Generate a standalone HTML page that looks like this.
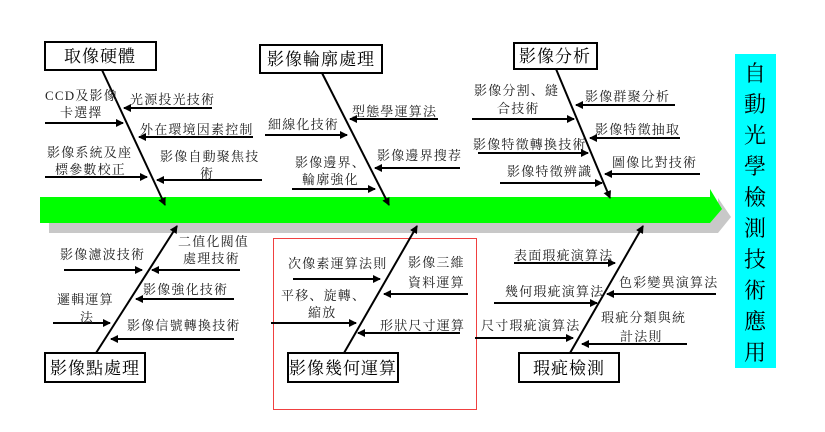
<!DOCTYPE html>
<html><head><meta charset="utf-8"><style>
body{margin:0;background:#fff;}
svg{display:block;}
text{font-family:"Liberation Serif","Noto Serif CJK SC","Noto Sans CJK TC",serif;font-size:13px;fill:#222;letter-spacing:1.2px;}
.t{font-size:17px;fill:#000;letter-spacing:1px;}
.v{font-size:22px;fill:#000;letter-spacing:0;}
</style></head><body>
<svg width="825" height="432" viewBox="0 0 825 432" xmlns="http://www.w3.org/2000/svg">
<defs>
<marker id="a" markerWidth="8" markerHeight="8" refX="7" refY="4" orient="auto" markerUnits="userSpaceOnUse"><path d="M0,0 L8,4 L0,8 z" fill="#000"/></marker>
</defs>
<polygon points="49,206 718,206 718,198 731,217 718,233 49,233" fill="#c8c8c8"/>
<polygon points="40,197 710,197 710,189 722,209 710,223 40,223" fill="#00ff00"/>
<rect x="735" y="54" width="41" height="314" fill="#00ffff"/>
<g text-anchor="middle">
<text class="v" x="755" y="81">自</text><text class="v" x="755" y="112">動</text><text class="v" x="755" y="143">光</text><text class="v" x="755" y="174">學</text><text class="v" x="755" y="205">檢</text><text class="v" x="755" y="236">測</text><text class="v" x="755" y="267">技</text><text class="v" x="755" y="298">術</text><text class="v" x="755" y="329">應</text><text class="v" x="755" y="360">用</text>
</g>
<rect x="273.5" y="238.5" width="203" height="171" fill="none" stroke="#f04040" stroke-width="1"/>
<g fill="#fff" stroke="#000" stroke-width="2">
<rect x="45" y="42" width="111" height="28"/>
<rect x="260" y="45" width="122" height="28"/>
<rect x="514" y="43" width="83" height="26"/>
<rect x="45" y="353" width="100" height="29"/>
<rect x="288" y="353" width="110" height="29"/>
<rect x="519" y="353" width="100" height="29"/>
</g>
<g text-anchor="middle">
<text class="t" x="100" y="62">取像硬體</text>
<text class="t" x="321" y="65">影像輪廓處理</text>
<text class="t" x="555" y="62">影像分析</text>
<text class="t" x="95" y="374">影像點處理</text>
<text class="t" x="343" y="374">影像幾何運算</text>
<text class="t" x="569" y="374">瑕疵檢測</text>
</g>
<g stroke="#000" stroke-width="2" marker-end="url(#a)" fill="none">
<line x1="102" y1="70" x2="165" y2="205"/>
<line x1="322" y1="73" x2="389" y2="205"/>
<line x1="556" y1="69" x2="610" y2="198"/>
<line x1="96" y1="353" x2="177" y2="226"/>
<line x1="344" y1="353" x2="417" y2="226"/>
<line x1="570" y1="353" x2="643" y2="226"/>
<line x1="212" y1="108" x2="124" y2="108"/>
<line x1="45" y1="123" x2="123" y2="123"/>
<line x1="253" y1="137" x2="139" y2="137"/>
<line x1="45" y1="177" x2="147" y2="177"/>
<line x1="262" y1="180" x2="157" y2="180"/>
<line x1="438" y1="119" x2="350" y2="119"/>
<line x1="265" y1="135" x2="347" y2="135"/>
<line x1="460" y1="168" x2="375" y2="168"/>
<line x1="292" y1="189" x2="375" y2="189"/>
<line x1="472" y1="119" x2="574" y2="119"/>
<line x1="675" y1="105" x2="576" y2="105"/>
<line x1="680" y1="138" x2="590" y2="138"/>
<line x1="478" y1="153" x2="588" y2="153"/>
<line x1="500" y1="183" x2="602" y2="183"/>
<line x1="700" y1="174" x2="605" y2="174"/>
<line x1="64" y1="270" x2="142" y2="270"/>
<line x1="240" y1="270" x2="152" y2="270"/>
<line x1="234" y1="299" x2="136" y2="299"/>
<line x1="53" y1="323" x2="110" y2="323"/>
<line x1="234" y1="339" x2="111" y2="339"/>
<line x1="293" y1="279" x2="380" y2="279"/>
<line x1="468" y1="294" x2="384" y2="294"/>
<line x1="271" y1="323" x2="356" y2="323"/>
<line x1="460" y1="333" x2="358" y2="333"/>
<line x1="514" y1="263" x2="615" y2="263"/>
<line x1="716" y1="294" x2="607" y2="294"/>
<line x1="494" y1="303" x2="597" y2="303"/>
<line x1="475" y1="338" x2="573" y2="338"/>
<line x1="687" y1="344" x2="582" y2="344"/>
</g>
<text x="130" y="104">光源投光技術</text>
<text x="45" y="100">CCD及影像</text>
<text x="60" y="117">卡選擇</text>
<text x="140" y="134">外在環境因素控制</text>
<text x="47" y="157">影像系統及座</text>
<text x="55" y="174">標參數校正</text>
<text x="160" y="161">影像自動聚焦技</text>
<text x="200" y="178">術</text>

<text x="352" y="116">型態學運算法</text>
<text x="268" y="129">細線化技術</text>
<text x="377" y="160">影像邊界搜荐</text>
<text x="295" y="167">影像邊界、</text>
<text x="302" y="184">輪廓強化</text>

<text x="474" y="95">影像分割、縫</text>
<text x="497" y="113">合技術</text>
<text x="585" y="101">影像群聚分析</text>
<text x="595" y="134">影像特徵抽取</text>
<text x="473" y="149">影像特徵轉換技術</text>
<text x="507" y="176">影像特徵辨識</text>
<text x="612" y="167">圖像比對技術</text>

<text x="60" y="259">影像濾波技術</text>
<text x="178" y="246">二值化閥值</text>
<text x="183" y="263">處理技術</text>
<text x="143" y="294">影像強化技術</text>
<text x="57" y="304">邏輯運算</text>
<text x="80" y="322">法</text>
<text x="127" y="330">影像信號轉換技術</text>

<text x="288" y="268">次像素運算法則</text>
<text x="408" y="267">影像三維</text>
<text x="408" y="287">資料運算</text>
<text x="281" y="300">平移、旋轉、</text>
<text x="308" y="317">縮放</text>
<text x="380" y="330">形狀尺寸運算</text>

<text x="514" y="260">表面瑕疵演算法</text>
<text x="619" y="287">色彩變異演算法</text>
<text x="505" y="296">幾何瑕疵演算法</text>
<text x="481" y="330">尺寸瑕疵演算法</text>
<text x="601" y="322">瑕疵分類與統</text>
<text x="620" y="341">計法則</text>
</svg>
</body></html>
